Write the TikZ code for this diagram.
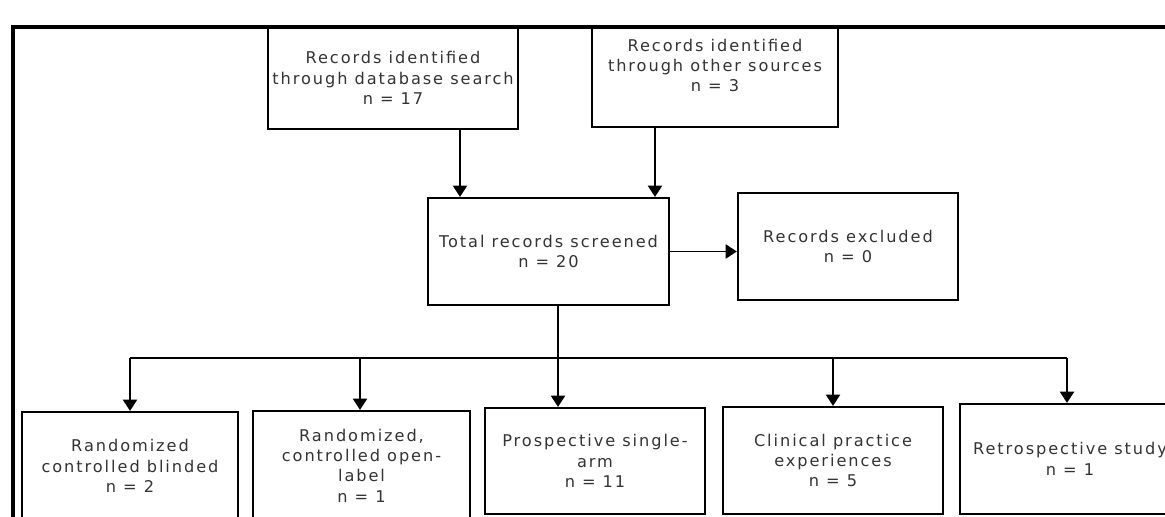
\documentclass[tikz,border=0pt]{standalone}
\usepackage{fontspec}
\setmainfont{DejaVu Sans}[LetterSpace=12]
\usetikzlibrary{arrows.meta}

\begin{document}
\begin{tikzpicture}[x=0.025cm,y=-0.025cm,
        box/.style={draw,line width=1.5pt,align=center,inner sep=0pt,
                    text=black!80,font=\fontsize{11.5}{14.5}\selectfont},
        link/.style={line width=1.3pt},
        arr/.style={link,-{Triangle[width=10pt,length=8pt]}}]
        \clip (0,0) rectangle (1165,517);

        % Outer frame
        \draw[line width=2.2pt] (13,530) -- (13,27) -- (1175,27);

        % Sources
        \node[box,minimum width=6.25cm,minimum height=2.55cm] (dbsearch) at (393,78)
            {Records identified\\through database search\\n = 17};
        \node[box,minimum width=6.15cm,minimum height=2.5cm] (othersrc) at (715,77)
            {Records identified\\through other sources\\n = 3\\[2pt]};

        % Screening
        \node[box,minimum width=6.025cm,minimum height=2.675cm] (screened) at (548.5,251.5)
            {Total records screened\\n = 20};
        \node[box,minimum width=5.5cm,minimum height=2.675cm] (excluded) at (848,246.5)
            {Records excluded\\n = 0};

        % Study designs
        \node[box,minimum width=5.4cm,minimum height=2.7cm] (rctblind) at (130,466)
            {Randomized\\controlled blinded\\n = 2};
        \node[box,minimum width=5.425cm,minimum height=2.725cm] (rctopen) at (361.5,465.5)
            {Randomized,\\controlled open-\\label\\n = 1};
        \node[box,minimum width=5.5cm,minimum height=2.65cm] (singlearm) at (595,461)
            {Prospective single-\\arm\\n = 11};
        \node[box,minimum width=5.5cm,minimum height=2.675cm] (clinical) at (833,460.5)
            {Clinical practice\\experiences\\n = 5};
        \node[box,minimum width=5.5cm,minimum height=2.75cm] (retro) at (1070,459)
            {Retrospective study\\n = 1};

        % Connector positions
        \coordinate (dbx) at (460,0);
        \coordinate (osx) at (655,0);
        \coordinate (bus) at (558,358);
        \coordinate (busleft) at (130,358);
        \coordinate (busright) at (1067,358);
        \coordinate (openx) at (360,0);

        % Arrows into screening
        \draw[arr] (dbsearch.south -| dbx) -- (screened.north -| dbx);
        \draw[arr] (othersrc.south -| osx) -- (screened.north -| osx);
        \draw[arr] (screened.east) -- (screened.east -| excluded.west);

        % Branching bus
        \draw[link] (screened.south -| bus) -- (bus);
        \draw[link] (busleft) -- (busright);
        \draw[arr] (busleft) -- (rctblind.north);
        \draw[arr] (bus -| openx) -- (rctopen.north -| openx);
        \draw[arr] (bus) -- (singlearm.north -| bus);
        \draw[arr] (bus -| clinical.north) -- (clinical.north);
        \draw[arr] (busright) -- (retro.north -| busright);
\end{tikzpicture}
\end{document}
